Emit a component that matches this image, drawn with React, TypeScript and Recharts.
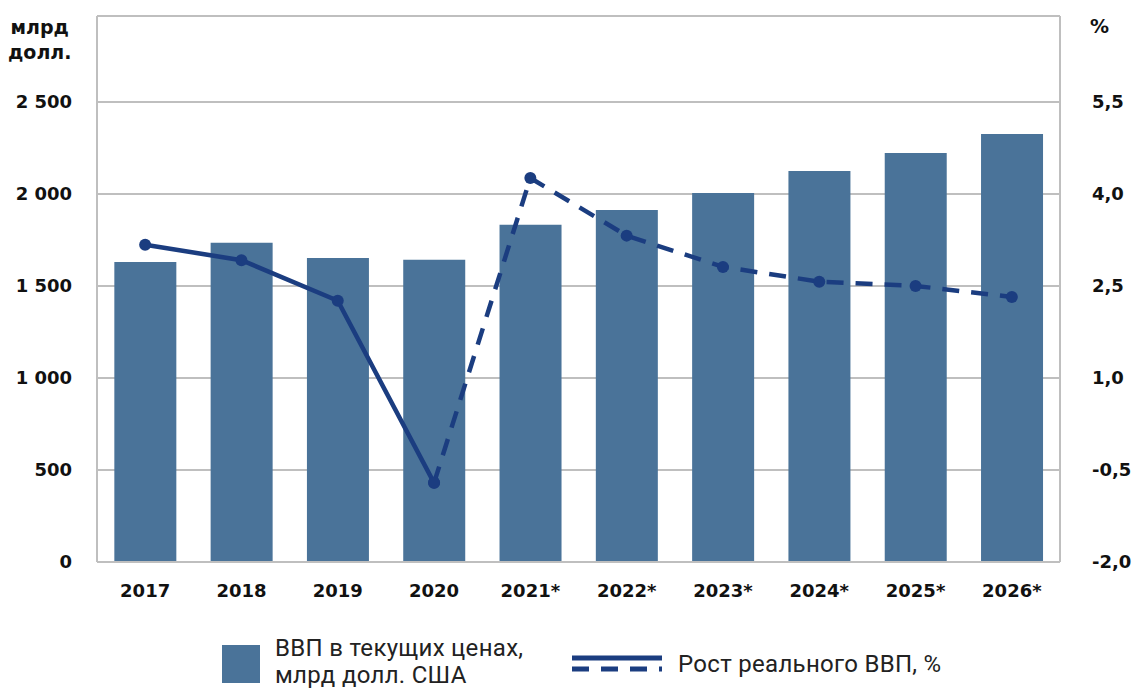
import React from "react";
import {
  ComposedChart,
  Bar,
  Line,
  XAxis,
  YAxis,
  CartesianGrid,
} from "recharts";

const years = ["2017", "2018", "2019", "2020", "2021*", "2022*", "2023*", "2024*", "2025*", "2026*"];
const gdpNominal = [1630, 1735, 1652, 1642, 1832, 1913, 2005, 2125, 2223, 2326];
const growthActual = [3.17, 2.92, 2.26, -0.71, null, null, null, null, null, null];
const growthForecast = [null, null, null, -0.71, 4.26, 3.32, 2.81, 2.57, 2.5, 2.32];
const leftTicks = [0, 500, 1000, 1500, 2000, 2500];
const rightTicks = [-2, -0.5, 1, 2.5, 4, 5.5];

const data = years.map((year, i) => ({
  year,
  gdp: gdpNominal[i],
  actual: growthActual[i],
  forecast: growthForecast[i],
}));

const BAR = "#4a7399";
const LINE = "#1b3d80";
const FONT = "'DejaVu Sans', sans-serif";

const fmtLeft = (v: number) => (v >= 1000 ? `${Math.floor(v / 1000)} ${String(v % 1000).padStart(3, "0")}` : String(v));
const fmtRight = (v: number) => v.toFixed(1).replace(".", ",");

const tickStyle = { fill: "#111", fontSize: 18, fontWeight: 700, fontFamily: FONT };

function LegendBox() {
  return (
    <div style={{ position: "absolute", left: 0, top: 620, width: 1134, height: 70, fontFamily: "Roboto, sans-serif", fontSize: 24, letterSpacing: 0.3, color: "#222" }}>
      <div style={{ position: "absolute", left: 222, top: 25, width: 38, height: 38, background: BAR }} />
      <div style={{ position: "absolute", left: 275, top: 15, lineHeight: "27px", whiteSpace: "nowrap" }}>
        ВВП в текущих ценах,
        <br />
        млрд долл. США
      </div>
      <svg style={{ position: "absolute", left: 572, top: 33 }} width={90} height={24}>
        <line x1={0} x2={90} y1={5} y2={5} stroke={LINE} strokeWidth={5} />
        <line x1={0} x2={90} y1={16} y2={16} stroke={LINE} strokeWidth={5} strokeDasharray="17 12" />
      </svg>
      <div style={{ position: "absolute", left: 678, top: 30, whiteSpace: "nowrap" }}>Рост реального ВВП, %</div>
    </div>
  );
}

export default function App() {
  return (
    <div style={{ position: "absolute", left: 0, top: 0, width: 1134, height: 690, background: "#fff", overflow: "hidden" }}>
      <div style={{ position: "absolute", left: 8, top: 15, fontFamily: FONT, fontWeight: 700, fontSize: 19, lineHeight: "25px", color: "#111", textAlign: "center" }}>
        млрд
        <br />
        долл.
      </div>
      <div style={{ position: "absolute", left: 1090, top: 15, fontFamily: FONT, fontWeight: 700, fontSize: 19, color: "#111" }}>%</div>
      <ComposedChart
        width={1134}
        height={690}
        data={data}
        barCategoryGap="18%"
        margin={{ top: 16, right: 0, bottom: 0, left: 0 }}
      >
        <CartesianGrid vertical={false} stroke="#bfbfbf" strokeWidth={2} yAxisId="left" />
        <XAxis
          dataKey="year"
          axisLine={{ stroke: "#bfbfbf", strokeWidth: 2 }}
          tickLine={false}
          tickSize={0}
          tickMargin={22}
          height={128}
          tick={tickStyle}
        />
        <YAxis
          yAxisId="left"
          width={97}
          domain={[0, 2967]}
          ticks={leftTicks}
          tickFormatter={fmtLeft}
          axisLine={{ stroke: "#bfbfbf", strokeWidth: 2 }}
          tickLine={false}
          tickSize={0}
          tickMargin={25}
          tick={tickStyle}
        />
        <YAxis
          yAxisId="right"
          orientation="right"
          width={74}
          domain={[-2, 6.9]}
          ticks={rightTicks}
          tickFormatter={fmtRight}
          axisLine={{ stroke: "#bfbfbf", strokeWidth: 2 }}
          tickLine={false}
          tickSize={0}
          tickMargin={32}
          tick={{ ...tickStyle, textAnchor: "start" }}
        />
        <Bar yAxisId="left" dataKey="gdp" fill={BAR} isAnimationActive={false} />
        <Line
          yAxisId="right"
          dataKey="actual"
          stroke={LINE}
          strokeWidth={4.5}
          dot={{ r: 6, fill: LINE, stroke: LINE, strokeWidth: 0 }}
          connectNulls={false}
          isAnimationActive={false}
        />
        <Line
          yAxisId="right"
          dataKey="forecast"
          stroke={LINE}
          strokeWidth={4.5}
          strokeDasharray="17 12"
          dot={{ r: 6, fill: LINE, stroke: LINE, strokeWidth: 0 }}
          connectNulls={false}
          isAnimationActive={false}
        />
      </ComposedChart>
      <LegendBox />
    </div>
  );
}
